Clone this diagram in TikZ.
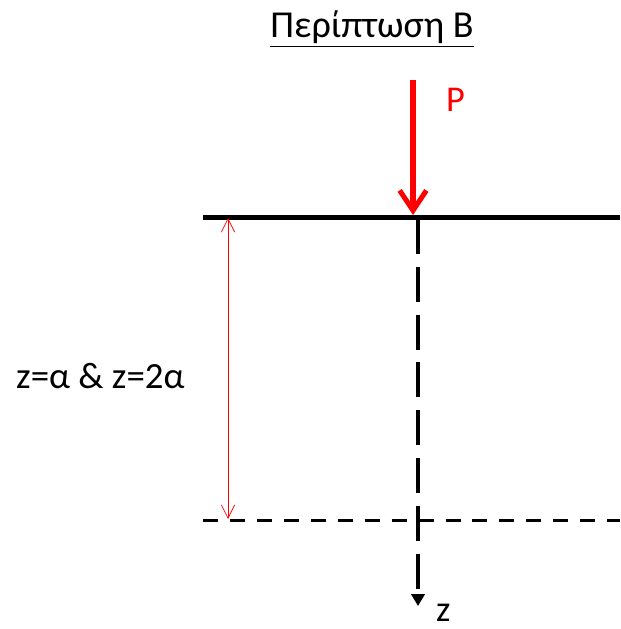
\documentclass[tikz,border=0pt]{standalone}
\usepackage{fontspec}
\setmainfont{Carlito}
\usetikzlibrary{arrows.meta}

\begin{document}
\begin{tikzpicture}[
  x=0.03cm, y=-0.03cm,
  every node/.style={inner sep=0pt, font=\fontsize{31}{36}\selectfont},
  ground/.style={line width=3.6pt, black},
  depth/.style={line width=3.4pt, black, dash pattern=on 12.8pt off 10.2pt},
  zaxis/.style={line width=3.4pt, black, dash pattern=on 29.8pt off 11pt, -{Triangle[length=0.36cm, width=0.4cm]}},
  load/.style={line width=4.3pt, red, -{Straight Barb[length=0.6cm, width=0.8cm]}},
  dimline/.style={line width=0.6pt, red, {Straight Barb[length=0.4cm, width=0.4cm]}-{Straight Barb[length=0.4cm, width=0.4cm]}}
]
\useasboundingbox (0,0) rectangle (620,629);

% --- Title ---
\node[anchor=base, font=\fontsize{32.5}{38}\selectfont] (title) at (372,38) {\underline{Περίπτωση Β}};

% --- Points ---
\coordinate (loadtop) at (413,80);
\coordinate (loadtip) at (413,215);
\coordinate (surfL) at (203,217.5);
\coordinate (surfR) at (620,217.5);
\coordinate (axtop) at (418,219);
\coordinate (axend) at (418,606);
\coordinate (deepL) at (203,520.5);
\coordinate (deepR) at (620,520.5);
\coordinate (dimtop) at (228,218);
\coordinate (dimbot) at (228,519);

% --- Lines ---
\draw[ground] (surfL) -- (surfR);
\draw[depth] (deepL) -- (deepR);
\draw[zaxis] (axtop) -- (axend);
\draw[load] (loadtop) -- (loadtip);
\draw[dimline] (dimtop) -- (dimbot);

% --- Labels ---
\node[anchor=base west, text=red] (plabel) at (446,112) {P};
\node[anchor=base west, font=\fontsize{31.5}{36}\selectfont] (zrange) at (16,388) {z=α \& z=2α};
\node[anchor=base west] (zlabel) at (436,621) {z};

\end{tikzpicture}
\end{document}
